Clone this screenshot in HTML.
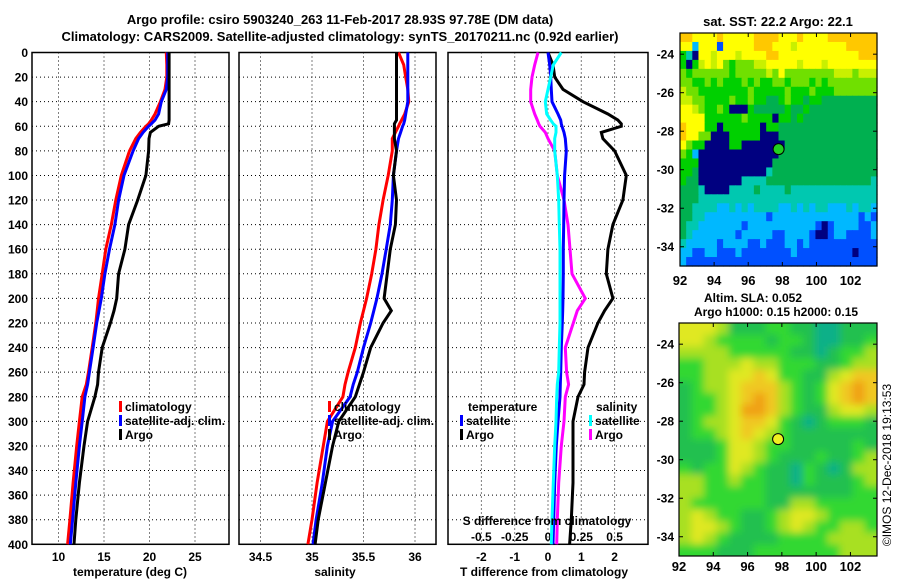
<!DOCTYPE html>
<html><head><meta charset="utf-8"><style>
body{margin:0;background:#fff;}
svg{display:block;font-family:"Liberation Sans",Arial,sans-serif;font-weight:bold;}
</style></head><body>
<svg id="c" width="900" height="580" viewBox="0 0 900 580">
<defs>
<filter id="blur" x="-5%" y="-5%" width="110%" height="110%"><feGaussianBlur stdDeviation="4"/></filter>
<clipPath id="clipm2"><rect x="679" y="323" width="198" height="233"/></clipPath>
</defs>
<g id="root"></g>
</svg>
<script>
// ---- data ----
const depths = [0,10,20,30,40,50,55,58,60,65,70,80,100,120,140,160,180,200,210,220,240,260,270,280,300,320,350,380,400];
const tempClim = [21.85,21.9,21.9,21.7,21.2,20.6,20.2,19.9,19.6,19.0,18.5,17.8,16.9,16.3,15.8,15.2,14.8,14.4,14.25,14.1,13.7,13.3,13.05,12.6,12.3,12.0,11.6,11.25,11.0];
const tempSat  = [22.0,22.0,22.0,21.85,21.3,21.0,20.6,20.2,19.9,19.3,18.8,18.2,17.2,16.6,16.2,15.6,15.1,14.7,14.45,14.2,13.8,13.4,13.2,12.9,12.6,12.3,11.9,11.55,11.3];
const tempArgo = [22.15,22.15,22.15,22.15,22.15,22.15,22.15,22.1,21.0,20.1,19.95,19.9,19.6,18.7,17.7,17.3,16.6,16.4,16.1,15.7,14.8,14.4,14.3,14.0,13.2,12.8,12.3,11.9,11.7];
const salClim = [35.84,35.89,35.91,35.93,35.94,35.9,35.87,35.85,35.84,35.81,35.78,35.78,35.74,35.69,35.65,35.62,35.58,35.53,35.5,35.47,35.42,35.35,35.32,35.3,35.15,35.11,35.05,35.0,34.96];
const salSat  = [35.93,35.93,35.93,35.93,35.93,35.91,35.9,35.89,35.88,35.86,35.84,35.82,35.79,35.78,35.76,35.72,35.68,35.63,35.6,35.57,35.5,35.44,35.4,35.37,35.2,35.15,35.1,35.04,35.01];
const salArgo = [35.82,35.82,35.82,35.82,35.82,35.82,35.82,35.8,35.8,35.8,35.8,35.82,35.79,35.82,35.81,35.76,35.73,35.70,35.77,35.69,35.57,35.50,35.46,35.42,35.26,35.2,35.13,35.06,35.03];
const tDiffSat  = [0.0,0.05,0.08,0.1,0.12,0.3,0.38,0.4,0.42,0.48,0.52,0.55,0.5,0.48,0.47,0.46,0.46,0.45,0.44,0.43,0.4,0.38,0.37,0.36,0.3,0.25,0.2,0.17,0.15];
const sDiffSat  = [0.1,0.04,0.02,0.0,-0.02,-0.01,0.02,0.04,0.06,0.06,0.05,0.05,0.07,0.08,0.085,0.09,0.09,0.09,0.09,0.09,0.085,0.08,0.07,0.065,0.06,0.05,0.04,0.03,0.025];
const tDiffArgo = [0.0,0.15,0.2,0.45,1.05,1.8,2.1,2.2,2.2,1.6,1.65,2.0,2.35,2.25,1.95,1.8,1.75,1.95,1.7,1.5,1.2,1.1,1.08,0.9,0.75,0.75,0.75,0.7,0.65];
const sDiffArgo = [-0.075,-0.1,-0.12,-0.13,-0.13,-0.1,-0.08,-0.07,-0.06,-0.02,0.0,0.05,0.07,0.12,0.15,0.165,0.18,0.28,0.22,0.19,0.13,0.14,0.155,0.13,0.12,0.1,0.08,0.07,0.065];
const depthTicks = [0,20,40,60,80,100,120,140,160,180,200,220,240,260,280,300,320,340,360,380,400];
const tTicks = [10,15,20,25];
const sTicks = [34.5,35,35.5,36];
const dTTicks = [-2,-1,0,1,2];
const dSTicks = [-0.5,-0.25,0,0.25,0.5];
const dSTickLabels = ['-0.5','-0.25','0','0.25','0.5'];
const lonTicks = [92,94,96,98,100,102];
const latTicks = [-24,-26,-28,-30,-32,-34];
const argoLon = 97.78, argoLat = -28.93;
const sstGrid = [
"99888898888899998889888899999999","88288818888899988878888888899999","53088788878888998888888888888999","50578786566677888887888788888888",
"65666666566666768666666667776777","66556565556565566566656566666666","76655555555655555655565556666666","77665555655655445655455444444444",
"88765565000544444544544444444444","88885555556555505545444444444444","98885505555550554444444444444444","98866000555550004444444444444444",
"86550000550000000444444444444444","65200000000000004444444444444444","55500000000000044444444444444444","55400000000000344444444444444444",
"54400000003333444444444444444443","44430000333343333433333333333333","44433333333333333333333333333333","44333322323233332232323322232332",
"44332222222222122222222222222121","43322222221222222222221012222112","43222222212222211222210012211112","32222212222112111221211111111111",
"22112211121111111121111111110111","21111111111111111111111111111111"];
const slaGrid = [
"4443111221100111","4432222122100112","3333222221101223","2233343322211233",
"2233445422113455","1233455532124565","1223456532124565","1223466532113443",
"1233455421012221","1223454321111111","1112443221111121","1112443211121123",
"2122432110210133","3322322110211123","3322222111111122","3222222113322222",
"3432211234432222","3443211234322332","3432111122223333","2221112222222333"];
const sstColors = ['#000080','#0050ff','#00b8ff','#00c8b0','#00b050','#00d000','#70e000','#c8f000','#ffff00','#ffc800'];
const slaColors = ['#10b088','#20c050','#30d830','#a8e020','#e0e820','#f0c820','#f0a018'];

// ---- helpers ----
const NS='http://www.w3.org/2000/svg';
const root=document.getElementById('root');
function el(tag,attrs,parent){const e=document.createElementNS(NS,tag);for(const k in attrs)e.setAttribute(k,attrs[k]);(parent||root).appendChild(e);return e;}
function txt(x,y,s,anchor,size,parent){const t=el('text',{x:x,y:y,'text-anchor':anchor||'middle','font-size':size||12},parent);t.textContent=s;return t;}
const Y0=52.5,YS=1.2295;
function yD(d){return Y0+d*YS;}
function lin(d0,d1,p0,p1){return v=>p0+(v-d0)*(p1-p0)/(d1-d0);}
const panels=[{x0:32,x1:229},{x0:239,x1:436},{x0:448,x1:648}];
const xT=lin(15,20,104,149.5), xS=lin(34.5,35,260.5,312), xDT=lin(0,1,548,581.3), xDS=lin(0,0.25,548,581.3);

panels.forEach((p,i)=>{
  const g=el('g',{});
  
  
  depthTicks.forEach(d=>{ if(d>0&&d<400) el('line',{x1:p.x0,x2:p.x1,y1:yD(d),y2:yD(d),stroke:'#000','stroke-width':1,'stroke-dasharray':'1,3'},g); });
  const vt = i===0?tTicks.map(xT):i===1?sTicks.map(xS):dTTicks.map(xDT);
  vt.forEach(x=>el('line',{x1:x,x2:x,y1:yD(0),y2:yD(400),stroke:'#000','stroke-width':1,'stroke-dasharray':'1,3'},g));
  el('rect',{x:p.x0,y:yD(0),width:p.x1-p.x0,height:yD(400)-yD(0),fill:'none',stroke:'#000','stroke-width':1.5},g);
});
depthTicks.forEach(d=>{const t=txt(28,yD(d)+4.5,String(d),'end',12);
  
  });
tTicks.forEach(v=>{const t=txt(xT(v),561,String(v));
  
  });
sTicks.forEach(v=>{const t=txt(xS(v),561,String(v));
  
  });
dTTicks.forEach(v=>{const t=txt(xDT(v),561,String(v));
  
  });
dSTicks.forEach((v,i)=>{const t=txt(xDS(v),541,dSTickLabels[i]);
  
  });

function series(xs,xf,color,name){
  const pts=depths.map((d,i)=>xf(xs[i]).toFixed(1)+','+yD(d).toFixed(1)).join(' ');
  const pl=el('polyline',{points:pts,fill:'none',stroke:color,'stroke-width':3,'stroke-linejoin':'miter'});
  
  
}
series(tempClim,xT,'#ff0000','temp-climatology-line');
series(tempSat,xT,'#0000ff','temp-satellite-line');
series(tempArgo,xT,'#000000','temp-argo-line');
series(salClim,xS,'#ff0000','sal-climatology-line');
series(salSat,xS,'#0000ff','sal-satellite-line');
series(salArgo,xS,'#000000','sal-argo-line');
series(sDiffArgo,xDS,'#ff00ff','s-diff-argo-line');
series(tDiffArgo,xDT,'#000000','t-diff-argo-line');
series(tDiffSat,xDT,'#0000ff','t-diff-satellite-line');
series(sDiffSat,xDS,'#00ffff','s-diff-satellite-line');

function legend(x,y,color,label,name){
  const g=el('g',{});
  
  
  el('rect',{x:x,y:y-10,width:3,height:11,fill:color},g);
  txt(x+6,y,label,'start',12,g);
}
legend(119,411,'#ff0000','climatology','legend-climatology');
legend(119,425,'#0000ff','satellite-adj. clim.','legend-satellite-adj');
legend(119,439,'#000000','Argo','legend-argo');
legend(328,411,'#ff0000','climatology','legend2-climatology');
legend(328,425,'#0000ff','satellite-adj. clim.','legend2-satellite-adj');
legend(328,439,'#000000','Argo','legend2-argo');
txt(468,411,'temperature','start');
legend(460,425,'#0000ff','satellite','legend-t-satellite');
legend(460,439,'#000000','Argo','legend-t-argo');
txt(596,411,'salinity','start');
legend(589,425,'#00ffff','satellite','legend-s-satellite');
legend(589,439,'#ff00ff','Argo','legend-s-argo');
txt(547,525,'S difference from climatology');

txt(130,576,'temperature (deg C)');
txt(335,576,'salinity');
txt(544,576,'T difference from climatology');
let t1=txt(340,24,'Argo profile: csiro 5903240_263 11-Feb-2017 28.93S 97.78E (DM data)','middle',13);


let t2=txt(340,41,'Climatology: CARS2009. Satellite-adjusted climatology: synTS_20170211.nc (0.92d earlier)','middle',13);



function drawMap(grid,colors,x0,y0,w,h,blur,name){
  const g=el('g',{});
  
  
  let inner=g;
  if(blur){const c=el('g',{'clip-path':'url(#clipm2)'},g);inner=el('g',{filter:'url(#blur)'},c);}
  const rows=grid.length, cols=grid[0].length, cw=w/cols, ch=h/rows;
  grid.forEach((r,ri)=>{for(let ci=0;ci<cols;ci++){
    const pad=blur?12:0;
    let xx=x0+ci*cw, yy=y0+ri*ch, ww=cw+0.6, hh=ch+0.6;
    if(blur){ if(ci===0){xx-=pad;ww+=pad;} if(ci===cols-1)ww+=pad; if(ri===0){yy-=pad;hh+=pad;} if(ri===rows-1)hh+=pad; }
    const c=el('rect',{x:xx,y:yy,width:ww,height:hh,fill:colors[+r[ci]]},inner);
    
    
  }});
  el('rect',{x:x0,y:y0,width:w,height:h,fill:'none',stroke:'#000','stroke-width':1.2},g);
  return g;
}
const M1={x0:680,y0:33,w:197,h:233}, M2={x0:679,y0:323,w:198,h:233};
const latTop=-22.9, latBot=-35.0, lonL=92, lonR=103.55;
drawMap(sstGrid,sstColors,M1.x0,M1.y0,M1.w,M1.h,false,'sst-map');
drawMap(slaGrid,slaColors,M2.x0,M2.y0,M2.w,M2.h,true,'sla-map');
[M1,M2].forEach((m,mi)=>{
  const xl=lin(lonL,lonR,m.x0,m.x0+m.w), yl=lin(latTop,latBot,m.y0,m.y0+m.h);
  lonTicks.forEach(v=>{el('line',{x1:xl(v),x2:xl(v),y1:m.y0+m.h,y2:m.y0+m.h-4,stroke:'#000'});el('line',{x1:xl(v),x2:xl(v),y1:m.y0,y2:m.y0+4,stroke:'#000'});
    const t=txt(xl(v),m.y0+m.h+(mi?15:19),String(v),'middle',13);
    
    });
  latTicks.forEach(v=>{el('line',{x1:m.x0,x2:m.x0+4,y1:yl(v),y2:yl(v),stroke:'#000'});el('line',{x1:m.x0+m.w,x2:m.x0+m.w-4,y1:yl(v),y2:yl(v),stroke:'#000'});
    const t=txt(674,yl(v)+4.5,String(v),'end',12);
    
    });
  const mk=el('circle',{cx:xl(argoLon),cy:yl(argoLat),r:5.5,fill:mi?'#f0f020':'#20d020',stroke:'#000','stroke-width':1});
  
  
});
txt(778,26,'sat. SST: 22.2 Argo: 22.1','middle',13);
txt(753,302,'Altim. SLA: 0.052','middle',12);
txt(776,316,'Argo h1000: 0.15 h2000: 0.15','middle',12);
const cr=txt(0,0,'©IMOS 12-Dec-2018 19:13:53','middle',12);
cr.setAttribute('transform','translate(891,465) rotate(-90)');
cr.setAttribute('font-weight','normal');


</script>
</body></html>
